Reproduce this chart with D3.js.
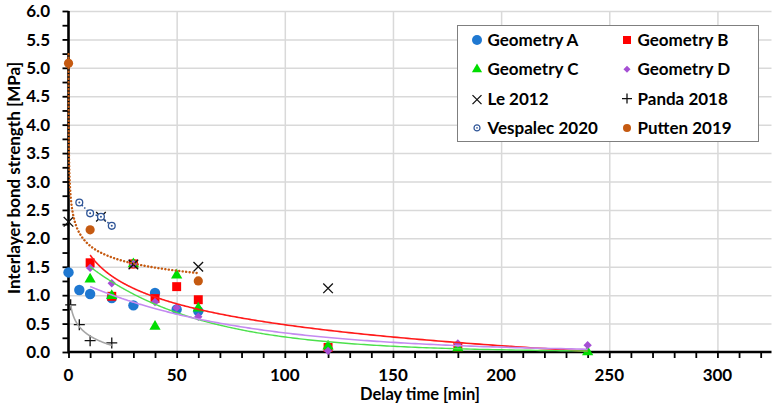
<!DOCTYPE html>
<html>
<head>
<meta charset="utf-8">
<script src="https://cdn.jsdelivr.net/npm/d3@7"></script>
<style>
  body { margin: 0; background: #fff; }
  text { font-family: Lato, "Open Sans", sans-serif; font-weight: bold; fill: #000; }
</style>
</head>
<body>
<svg id="chart" width="779" height="406"></svg>
<script>
// data (delay time in min, bond strength in MPa)
const aTime = [0, 5, 10, 20, 30, 40, 50, 60];
const aStrength = [1.40, 1.09, 1.02, 0.95, 0.82, 1.04, 0.75, 0.72];
const bTime = [10, 20, 30, 40, 50, 60, 120, 180];
const bStrength = [1.57, 0.98, 1.55, 0.94, 1.15, 0.92, 0.08, 0.09];
const cTime = [10, 20, 30, 40, 50, 60, 120, 180, 240];
const cStrength = [1.28, 0.99, 1.55, 0.45, 1.35, 0.77, 0.10, 0.07, 0.0];
const dTime = [10, 20, 30, 40, 50, 60, 120, 180, 240];
const dStrength = [1.48, 1.21, 1.55, 0.88, 0.78, 0.62, 0.02, 0.15, 0.12];
const leTime = [0, 15, 30, 60, 120];
const leStrength = [2.29, 2.38, 1.54, 1.50, 1.12];
const pandaTime = [1, 5, 10, 20];
const pandaStrength = [0.83, 0.48, 0.20, 0.16];
const vespTime = [5, 10, 15, 20];
const vespStrength = [2.63, 2.44, 2.38, 2.22];
const puttenTime = [0.02, 10, 30, 60];
const puttenStrength = [5.08, 2.15, 1.55, 1.25];

const xTicks = [0, 50, 100, 150, 200, 250, 300];
const yTicks = [0, 0.5, 1, 1.5, 2, 2.5, 3, 3.5, 4, 4.5, 5, 5.5, 6];
const geoTrendEnd = 240;

const svg = d3.select("#chart");
const pLeft = 68.5, pRight = 771.5, pTop = 11, pBottom = 352;

const x = d3.scaleLinear().domain([0, 325]).range([pLeft, pRight]);
const y = d3.scaleLinear().domain([0, 6]).range([pBottom, pTop]);

// grid
svg.append("g")
  .attr("transform", `translate(0,${pBottom})`)
  .call(d3.axisBottom(x).tickValues(xTicks.slice(1)).tickSize(-(pBottom - pTop)).tickFormat(""))
  .call((g) => g.select(".domain").remove())
  .call((g) => g.selectAll("line").attr("stroke", "#d9d9d9").attr("stroke-width", 1.5));
svg.append("g")
  .attr("transform", `translate(${pLeft},0)`)
  .call(d3.axisLeft(y).tickValues(yTicks.slice(1)).tickSize(-(pRight - pLeft)).tickFormat(""))
  .call((g) => g.select(".domain").remove())
  .call((g) => g.selectAll("line").attr("stroke", "#d9d9d9").attr("stroke-width", 1.5));

// axes (under the marks)
svg.append("g")
  .attr("transform", `translate(0,${pBottom})`)
  .call(d3.axisBottom(x).tickValues(d3.range(0, 330, 10)).tickSize(6).tickFormat(""))
  .call((g) => g.select(".domain").remove())
  .call((g) => g.selectAll("line").attr("stroke", "#000").attr("stroke-width", 1.8));
svg.append("g")
  .attr("transform", `translate(${pLeft},0)`)
  .call(d3.axisLeft(y).tickValues(d3.range(0, 6.01, 0.25)).tickSize(6).tickFormat(""))
  .call((g) => g.select(".domain").remove())
  .call((g) => g.selectAll("line").attr("stroke", "#000").attr("stroke-width", 1.8));
svg.append("line").attr("x1", pLeft).attr("x2", pRight).attr("y1", pBottom).attr("y2", pBottom)
  .attr("stroke", "#000").attr("stroke-width", 2.6);
svg.append("line").attr("x1", pLeft).attr("x2", pLeft).attr("y1", pTop).attr("y2", pBottom + 1.3)
  .attr("stroke", "#000").attr("stroke-width", 2.6);

// fits, like the spreadsheet trendlines
function logFit(xs, ys) {
  const lx = xs.map(Math.log);
  const mx = d3.mean(lx), my = d3.mean(ys);
  const a = d3.sum(lx, (v, i) => (v - mx) * (ys[i] - my)) / d3.sum(lx, (v) => (v - mx) ** 2);
  return (t) => a * Math.log(t) + my - a * mx;
}
function expFit(xs, ys) {
  const keep = ys.map((v, i) => i).filter((i) => ys[i] > 0);
  const xx = keep.map((i) => xs[i]), ly = keep.map((i) => Math.log(ys[i]));
  const mx = d3.mean(xx), my = d3.mean(ly);
  const k = d3.sum(xx, (v, i) => (v - mx) * (ly[i] - my)) / d3.sum(xx, (v) => (v - mx) ** 2);
  return (t) => Math.exp(my - k * mx + k * t);
}
function powFit(xs, ys) {
  const lx = xs.map(Math.log), ly = ys.map(Math.log);
  const mx = d3.mean(lx), my = d3.mean(ly);
  const b = d3.sum(lx, (v, i) => (v - mx) * (ly[i] - my)) / d3.sum(lx, (v) => (v - mx) ** 2);
  return (t) => Math.exp(my - b * mx) * Math.pow(t, b);
}
function curve(f, x0, x1) {
  const pts = d3.range(300).map((i) => {
    const t = x0 * Math.pow(x1 / x0, i / 299);
    return [t, Math.max(0, f(t))];
  });
  return d3.line().x((d) => x(d[0])).y((d) => y(d[1]))(pts);
}

// markers
const marks = svg.append("g");
function circles(xs, ys, r, fill) {
  xs.forEach((t, i) => marks.append("circle").attr("cx", x(t)).attr("cy", y(ys[i])).attr("r", r).attr("fill", fill));
}
function symbols(xs, ys, type, size, fill) {
  xs.forEach((t, i) => marks.append("path")
    .attr("d", d3.symbol().type(type).size(size)())
    .attr("transform", `translate(${x(t)},${y(ys[i])})`)
    .attr("fill", fill));
}
function crosses(xs, ys, type, s) {
  xs.forEach((t, i) => {
    const cx = x(t), cy = y(ys[i]);
    const d = type === "x"
      ? `M${cx - s},${cy - s}L${cx + s},${cy + s}M${cx - s},${cy + s}L${cx + s},${cy - s}`
      : `M${cx - s},${cy}L${cx + s},${cy}M${cx},${cy - s}L${cx},${cy + s}`;
    marks.append("path").attr("d", d).attr("stroke", "#111").attr("stroke-width", 1.3);
  });
}
const diamond = { draw(ctx, size) { const s = Math.sqrt(size) / 2; ctx.moveTo(0, -s); ctx.lineTo(s, 0); ctx.lineTo(0, s); ctx.lineTo(-s, 0); ctx.closePath(); } };

circles(puttenTime, puttenStrength, 4.6, "#c55a11");
circles(aTime, aStrength, 5.2, "#1f78d1");
symbols(bTime, bStrength, d3.symbolSquare, 80, "#ff0000");
symbols(cTime, cStrength, d3.symbolTriangle, 55, "#00dd00");
symbols(dTime, dStrength, diamond, 70, "#a54fd4");
crosses(leTime, leStrength, "x", 4.8);
crosses(pandaTime, pandaStrength, "+", 5.5);

// Vespalec connected dotted
svg.append("path")
  .attr("d", d3.line().x((d, i) => x(vespTime[i])).y((d) => y(d))(vespStrength))
  .attr("fill", "none").attr("stroke", "#2f5597").attr("stroke-width", 1.6).attr("stroke-dasharray", "1.5,2");
vespTime.forEach((t, i) => {
  svg.append("circle").attr("cx", x(t)).attr("cy", y(vespStrength[i])).attr("r", 3.4)
    .attr("fill", "#fff").attr("stroke", "#2f5597").attr("stroke-width", 1.3);
  svg.append("circle").attr("cx", x(t)).attr("cy", y(vespStrength[i])).attr("r", 1).attr("fill", "#2f5597");
});

// trendlines
const trends = svg.append("g").attr("fill", "none");
trends.append("path").attr("d", curve(logFit(bTime, bStrength), d3.min(bTime), geoTrendEnd))
  .attr("stroke", "#ff1a1a").attr("stroke-width", 1.6);
trends.append("path").attr("d", curve(expFit(cTime, cStrength), d3.min(cTime), geoTrendEnd))
  .attr("stroke", "#4ce04c").attr("stroke-width", 1.4);
trends.append("path").attr("d", curve(expFit(dTime, dStrength), d3.min(dTime), geoTrendEnd))
  .attr("stroke", "#c48af0").attr("stroke-width", 1.6);
trends.append("path").attr("d", curve(logFit(pandaTime, pandaStrength), d3.min(pandaTime), d3.max(pandaTime)))
  .attr("stroke", "#a6a6a6").attr("stroke-width", 1.6);
trends.append("path").attr("d", curve(powFit(puttenTime, puttenStrength), d3.min(puttenTime), d3.max(puttenTime)))
  .attr("stroke", "#c55a11").attr("stroke-width", 2.4)
  .attr("stroke-dasharray", "0.1,3.4").attr("stroke-linecap", "round");

// labels
svg.append("g").selectAll("text").data(xTicks).join("text")
  .attr("x", (d) => x(d)).attr("y", 380.5).attr("text-anchor", "middle")
  .style("font-size", "17px").text((d) => d);
svg.append("g").selectAll("text").data(yTicks).join("text")
  .attr("x", 50).attr("y", (d) => y(d)).attr("dy", "0.36em").attr("text-anchor", "end")
  .style("font-size", "17px").text((d) => d.toFixed(1));

svg.append("text").attr("x", 420).attr("y", 399.5).attr("text-anchor", "middle")
  .style("font-size", "16.5px").text("Delay time [min]");
svg.append("text").attr("transform", "translate(20,178) rotate(-90)").attr("text-anchor", "middle")
  .style("font-size", "17px").text("Interlayer bond strength [MPa]");

// legend
const legend = svg.append("g");
legend.append("rect").attr("x", 457.5).attr("y", 25.5).attr("width", 301).attr("height", 116)
  .attr("fill", "#fff").attr("stroke", "#7f7f7f").attr("stroke-width", 1);
const legendItems = [
  { name: "Geometry A", col: 0, row: 0 },
  { name: "Geometry B", col: 1, row: 0 },
  { name: "Geometry C", col: 0, row: 1 },
  { name: "Geometry D", col: 1, row: 1 },
  { name: "Le 2012", col: 0, row: 2 },
  { name: "Panda 2018", col: 1, row: 2 },
  { name: "Vespalec 2020", col: 0, row: 3 },
  { name: "Putten 2019", col: 1, row: 3 },
];
legendItems.forEach((it, i) => {
  const mx = it.col === 0 ? 477 : 627;
  const my = 40 + it.row * 29.3;
  const g = legend.append("g").attr("transform", `translate(${mx},${my})`);
  if (i === 0) g.append("circle").attr("r", 5).attr("fill", "#1f78d1");
  if (i === 1) g.append("path").attr("d", d3.symbol().type(d3.symbolSquare).size(64)()).attr("fill", "#ff0000");
  if (i === 2) g.append("path").attr("d", d3.symbol().type(d3.symbolTriangle).size(45)()).attr("fill", "#00dd00");
  if (i === 3) g.append("path").attr("d", d3.symbol().type(diamond).size(50)()).attr("fill", "#a54fd4");
  if (i === 4) g.append("path").attr("d", "M-4.5,-3.5L4.5,5.5M-4.5,5.5L4.5,-3.5").attr("stroke", "#111").attr("stroke-width", 1.3);
  if (i === 5) g.append("path").attr("d", "M-5,0L5,0M0,-5L0,5").attr("stroke", "#111").attr("stroke-width", 1.3);
  if (i === 6) {
    g.append("circle").attr("r", 3).attr("fill", "#fff").attr("stroke", "#2f5597").attr("stroke-width", 1.2);
    g.append("circle").attr("r", 0.8).attr("fill", "#2f5597");
  }
  if (i === 7) g.append("circle").attr("r", 4).attr("fill", "#c55a11");
  legend.append("text").attr("x", mx + 10.5).attr("y", my).attr("dy", "0.36em")
    .style("font-size", "17px").text(it.name);
});
</script>
</body>
</html>
